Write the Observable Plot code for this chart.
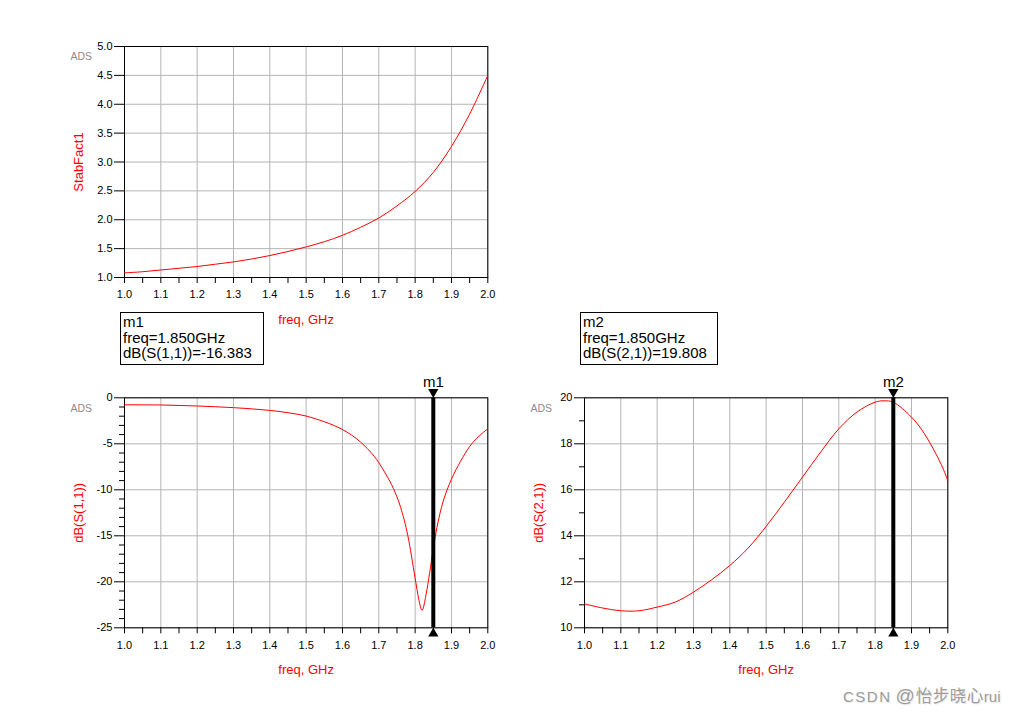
<!DOCTYPE html>
<html>
<head>
<meta charset="utf-8">
<script src="https://cdn.jsdelivr.net/npm/d3@7"></script>
<script src="https://cdn.jsdelivr.net/npm/@observablehq/plot@0.6"></script>
<style>
  html, body { margin: 0; padding: 0; background: #fff; }
  #root { position: relative; width: 1030px; height: 716px; overflow: hidden; font-family: "Liberation Sans", Arial, sans-serif; }
  #root svg { position: absolute; overflow: visible; background: transparent; max-width: none; }
  .mbox { position: absolute; border: 1px solid #000; font-size: 15px; line-height: 15.5px; padding: 1px 2px 1px 2px; color: #000; background: #fff; white-space: nowrap; box-sizing: border-box; }
  .wm { position: absolute; color: #9c9c9c; text-shadow: 1px 1px 1px rgba(0,0,0,0.10); white-space: nowrap; line-height: 22px; }
  .wm .lat { font-size: 15px; letter-spacing: 1.5px; }
  .wm .at { font-size: 19px; margin-left: 4px; }
  .wm .cjk { font-family: "Noto Sans CJK SC", sans-serif; font-size: 16.5px; letter-spacing: 0.5px; margin-left: 1px; }
  .wm .end { font-size: 15px; }
</style>
</head>
<body>
<div id="root"></div>
<script>
// ---------- data ----------
const freqTicks = [1.0, 1.1, 1.2, 1.3, 1.4, 1.5, 1.6, 1.7, 1.8, 1.9, 2.0];
const freqMinorTicks = [1.05, 1.15, 1.25, 1.35, 1.45, 1.55, 1.65, 1.75, 1.85, 1.95];

const stabFreq = [1.00, 1.05, 1.10, 1.15, 1.20, 1.25, 1.30, 1.35, 1.40, 1.45, 1.50, 1.55, 1.60, 1.65, 1.70, 1.75, 1.80, 1.85, 1.90, 1.95, 2.00];
const stabFact = [1.08, 1.10, 1.13, 1.16, 1.19, 1.23, 1.27, 1.32, 1.38, 1.45, 1.53, 1.62, 1.73, 1.87, 2.03, 2.24, 2.49, 2.82, 3.27, 3.83, 4.50];
const stabTicks = [1.0, 1.5, 2.0, 2.5, 3.0, 3.5, 4.0, 4.5, 5.0];

const s11Freq = [1.00, 1.10, 1.15, 1.20, 1.25, 1.30, 1.35, 1.40, 1.45, 1.50, 1.55, 1.60, 1.65, 1.70, 1.72, 1.74, 1.76, 1.78, 1.80, 1.81, 1.819, 1.83, 1.84, 1.85, 1.86, 1.87, 1.88, 1.89, 1.90, 1.925, 1.95, 1.975, 2.00];
const s11dB   = [-0.76, -0.78, -0.83, -0.89, -0.97, -1.07, -1.20, -1.37, -1.62, -1.98, -2.60, -3.45, -4.82, -7.05, -8.35, -9.85, -11.9, -15.0, -19.6, -21.9, -23.1, -21.4, -19.0, -16.383, -14.1, -12.3, -10.9, -9.8, -8.85, -6.9, -5.3, -4.2, -3.37];
const s11Ticks = [0, -5, -10, -15, -20, -25];
const s11Minor = [-1, -2, -3, -4, -6, -7, -8, -9, -11, -12, -13, -14, -16, -17, -18, -19, -21, -22, -23, -24];

const s21Freq = [1.00, 1.05, 1.10, 1.15, 1.20, 1.25, 1.30, 1.35, 1.40, 1.45, 1.50, 1.55, 1.60, 1.65, 1.70, 1.75, 1.80, 1.825, 1.85, 1.90, 1.936, 1.982, 2.00];
const s21dB   = [11.04, 10.86, 10.74, 10.74, 10.90, 11.12, 11.55, 12.09, 12.71, 13.46, 14.41, 15.46, 16.55, 17.64, 18.65, 19.38, 19.81, 19.87, 19.808, 19.16, 18.43, 17.10, 16.40];
const s21Ticks = [10, 12, 14, 16, 18, 20];
const s21Minor = [11, 13, 15, 17, 19];

const markerFreq = 1.85;
const m1Lines = ["m1", "freq=1.850GHz", "dB(S(1,1))=-16.383"];
const m2Lines = ["m2", "freq=1.850GHz", "dB(S(2,1))=19.808"];
const watermarkParts = ["CSDN", " @", "怡步晓心", "rui"];

// ---------- helpers ----------
const root = document.getElementById("root");
const FONT = "\"Liberation Sans\", Arial, sans-serif";

function panel({left, top, width, height, fl, fr, ft, fb, xs, ys, yDomain, yTicks, yMinor, yFmt, yLabel, marker, curve}) {
  const rows = xs.map((x, i) => ({x, y: ys[i]}));
  const marks = [
    Plot.gridX(freqTicks, {stroke: "#b4b4b4", strokeOpacity: 1, strokeWidth: 1}),
    Plot.gridY(yTicks, {stroke: "#b4b4b4", strokeOpacity: 1, strokeWidth: 1}),
    Plot.axisX(freqMinorTicks, {tickSize: 6, text: null, stroke: "#000", label: null}),
    Plot.axisX(freqTicks, {tickSize: 6, tickPadding: 7, tickFormat: d3.format(".1f"), fontSize: 11, fill: "#000", stroke: "#000", label: null}),
    Plot.axisY(yTicks, {tickSize: 10, tickPadding: 2, tickFormat: yFmt, fontSize: 11, fill: "#000", stroke: "#000", label: null}),
  ];
  if (yMinor) marks.push(Plot.axisY(yMinor, {tickSize: 5, text: null, stroke: "#000", label: null}));
  marks.push(
    Plot.frame({stroke: "#000", strokeWidth: 1}),
    Plot.line(rows, {x: "x", y: "y", stroke: "red", strokeWidth: 1, curve}),
    Plot.text(["freq, GHz"], {frameAnchor: "bottom", dy: 42, lineAnchor: "middle", textAnchor: "middle", fill: "red", fontSize: 13}),
    Plot.text([yLabel], {frameAnchor: "left", dx: -46, rotate: -90, lineAnchor: "middle", textAnchor: "middle", fill: "red", fontSize: 13}),
    Plot.text(["ADS"], {frameAnchor: "top-left", dx: -54, dy: 10.5, lineAnchor: "middle", textAnchor: "start", fill: "#8c8c8c", fontSize: 10.5})
  );
  if (marker) {
    const yTop = yDomain[1], yBot = yDomain[0];
    marks.push(
      Plot.ruleX([markerFreq], {stroke: "#000", strokeWidth: 4}),
      Plot.dot([markerFreq], {x: d => d, y: () => yTop, symbol: "triangle", r: 3.8, fill: "#000", stroke: null, rotate: 180, dy: -5.8}),
      Plot.dot([markerFreq], {x: d => d, y: () => yBot, symbol: "triangle", r: 3.8, fill: "#000", stroke: null, dy: 5.8}),
      Plot.text([marker], {x: () => markerFreq, y: () => yTop, dy: -11, lineAnchor: "bottom", fontSize: 15, fill: "#000"})
    );
  }
  const svg = Plot.plot({
    width, height,
    marginLeft: fl - left, marginRight: left + width - fr,
    marginTop: ft - top, marginBottom: top + height - fb,
    style: {fontFamily: FONT, background: "transparent", overflow: "visible"},
    x: {domain: [1, 2], axis: null},
    y: {domain: yDomain, axis: null},
    marks
  });
  svg.style.left = left + "px";
  svg.style.top = top + "px";
  root.appendChild(svg);
}

// StabFact1 panel
panel({left: 0, top: 0, width: 520, height: 340, fl: 124, fr: 487.3, ft: 46, fb: 277,
  xs: stabFreq, ys: stabFact, yDomain: [1, 5], yTicks: stabTicks, yMinor: null, yFmt: d3.format(".1f"),
  yLabel: "StabFact1", marker: null, curve: "catmull-rom"});

// S11 panel
panel({left: 0, top: 360, width: 520, height: 330, fl: 124, fr: 487.3, ft: 397.3, fb: 627.3,
  xs: s11Freq, ys: s11dB, yDomain: [-25, 0], yTicks: s11Ticks, yMinor: s11Minor, yFmt: d => String(d),
  yLabel: "dB(S(1,1))", marker: "m1", curve: "monotone-x"});

// S21 panel
panel({left: 460, top: 360, width: 520, height: 330, fl: 584, fr: 947.3, ft: 397.3, fb: 627.3,
  xs: s21Freq, ys: s21dB, yDomain: [10, 20], yTicks: s21Ticks, yMinor: s21Minor, yFmt: d => String(d),
  yLabel: "dB(S(2,1))", marker: "m2", curve: "catmull-rom"});

// marker readout boxes
function mbox(lines, left, top, w, h) {
  const d = document.createElement("div");
  d.className = "mbox";
  d.style.left = left + "px"; d.style.top = top + "px";
  d.style.width = w + "px"; d.style.height = h + "px";
  d.innerHTML = lines.map(s => `<div>${s}</div>`).join("");
  root.appendChild(d);
}
mbox(m1Lines, 120, 312, 144, 53);
mbox(m2Lines, 580, 312, 138, 53);

// watermark
const wm = document.createElement("div");
wm.className = "wm";
wm.innerHTML = `<span class="lat">${watermarkParts[0]}</span><span class="at">${watermarkParts[1].trim()}</span><span class="cjk">${watermarkParts[2]}</span><span class="end">${watermarkParts[3]}</span>`;
wm.style.left = "843px"; wm.style.top = "684px";
root.appendChild(wm);
</script>
</body>
</html>
